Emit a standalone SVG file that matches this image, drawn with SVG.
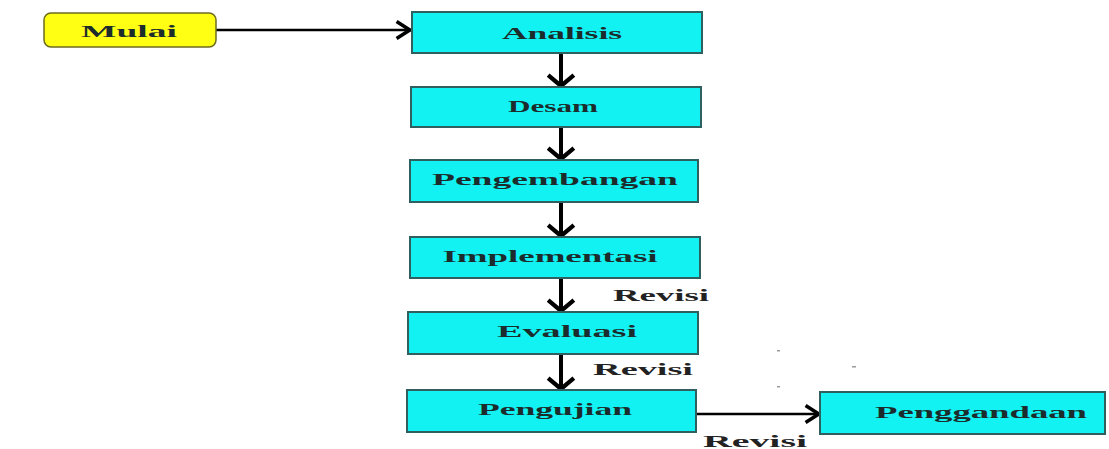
<svg xmlns="http://www.w3.org/2000/svg" width="1109" height="449" viewBox="0 0 1109 449">
<defs>
<style>
.box{fill:#12F2F2;stroke:#2f5f5f;stroke-width:2}
.start{fill:#FFFF14;stroke:#6b6b20;stroke-width:1.5}
.lbl{font-family:"Liberation Serif","Times New Roman",serif;font-weight:bold;font-size:16px;fill:#1c2b2b;text-anchor:middle;dominant-baseline:central}
.rev{font-family:"Liberation Serif","Times New Roman",serif;font-weight:bold;font-size:16px;fill:#222;text-anchor:middle;dominant-baseline:central}
.v{stroke:#000;stroke-width:4;fill:none}
.h{stroke:#000;stroke-width:2.5;fill:none}
</style>
<marker id="av" markerUnits="userSpaceOnUse" markerWidth="30" markerHeight="30" viewBox="-16 -14 20 28" refX="0" refY="0" orient="auto">
<path d="M-11,-12 L-1,0 L-11,12" stroke="#000" stroke-width="4" fill="none"/>
</marker>
<marker id="ah" markerUnits="userSpaceOnUse" markerWidth="24" markerHeight="24" viewBox="-14 -10 16 20" refX="0" refY="0" orient="auto">
<path d="M-12,-7 L-1,0 L-12,7" stroke="#000" stroke-width="3" fill="none"/>
</marker>
</defs>
<rect width="1109" height="449" fill="#fff"/>
<g id="connectors">
<line class="h" x1="216" y1="30" x2="411" y2="30" marker-end="url(#ah)"/>
<line class="v" x1="561" y1="53" x2="561" y2="87" marker-end="url(#av)"/>
<line class="v" x1="561" y1="127" x2="561" y2="160" marker-end="url(#av)"/>
<line class="v" x1="561" y1="202" x2="561" y2="237" marker-end="url(#av)"/>
<line class="v" x1="561" y1="278" x2="561" y2="312" marker-end="url(#av)"/>
<line class="v" x1="561" y1="354" x2="561" y2="390" marker-end="url(#av)"/>
<line class="h" x1="696" y1="414" x2="820" y2="414" marker-end="url(#ah)"/>
<text class="rev" x="661" y="295" textLength="96" lengthAdjust="spacingAndGlyphs">Revisi</text>
<text class="rev" x="643" y="369" textLength="100" lengthAdjust="spacingAndGlyphs">Revisi</text>
<text class="rev" x="755" y="441" textLength="104" lengthAdjust="spacingAndGlyphs">Revisi</text>
</g>
<g id="mulai">
<rect class="start" x="44" y="13" width="172" height="34" rx="7" ry="7"/>
<text class="lbl" x="129" y="31" textLength="96" lengthAdjust="spacingAndGlyphs">Mulai</text>
</g>
<g id="analisis">
<rect class="box" x="412" y="12" width="290" height="41"/>
<text class="lbl" x="562" y="33" textLength="120" lengthAdjust="spacingAndGlyphs">Analisis</text>
</g>
<g id="desam">
<rect class="box" x="411" y="87" width="290" height="40"/>
<text class="lbl" x="553" y="106" textLength="90" lengthAdjust="spacingAndGlyphs">Desam</text>
</g>
<g id="pengembangan">
<rect class="box" x="410" y="160" width="288" height="42"/>
<text class="lbl" x="555" y="179" textLength="246" lengthAdjust="spacingAndGlyphs">Pengembangan</text>
</g>
<g id="implementasi">
<rect class="box" x="410" y="237" width="290" height="41"/>
<text class="lbl" x="550" y="256" textLength="215" lengthAdjust="spacingAndGlyphs">Implementasi</text>
</g>
<g id="evaluasi">
<rect class="box" x="408" y="312" width="290" height="42"/>
<text class="lbl" x="567" y="331" textLength="140" lengthAdjust="spacingAndGlyphs">Evaluasi</text>
</g>
<g id="pengujian">
<rect class="box" x="407" y="390" width="289" height="42"/>
<text class="lbl" x="555" y="409" textLength="154" lengthAdjust="spacingAndGlyphs">Pengujian</text>
</g>
<g id="penggandaan">
<rect class="box" x="820" y="392" width="285" height="42"/>
<text class="lbl" x="981" y="412" textLength="212" lengthAdjust="spacingAndGlyphs">Penggandaan</text>
</g>
<g id="specks" fill="#9a9a9a">
<rect x="777" y="350" width="3" height="1.5"/>
<rect x="852" y="366" width="4" height="1.5"/>
<rect x="777" y="386" width="3" height="1.5"/>
</g>
</svg>
